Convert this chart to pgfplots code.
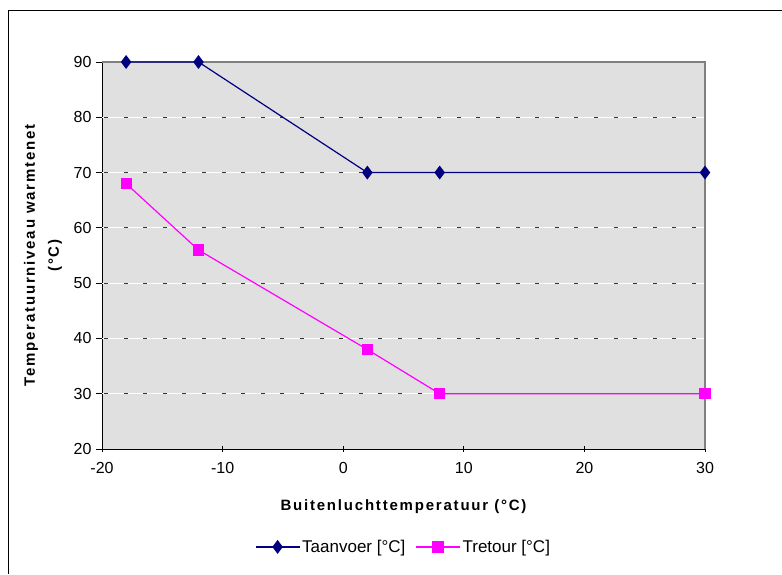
\documentclass[border=0pt]{standalone}
\usepackage{pgfplots}
\pgfplotsset{compat=1.18}
\usepackage{fontspec}
\setmainfont{Liberation Sans}
\newfontfamily\lblfont[LetterSpace=12]{Liberation Sans}
\definecolor{bgc}{RGB}{224,224,224}
\definecolor{navyc}{RGB}{0,0,128}
\definecolor{magc}{RGB}{255,0,255}
\definecolor{frameg}{RGB}{128,128,128}
\begin{document}
\begin{tikzpicture}
\useasboundingbox (0,0) rectangle (782pt,574pt);
\draw[black,line width=0.8pt] (8.5pt,0) -- (8.5pt,564pt) -- (782pt,564pt);
\begin{axis}[
  at={(102pt,125pt)}, anchor=south west,
  scale only axis, width=603pt, height=387pt,
  xmin=-20, xmax=30, ymin=20, ymax=90,
  xtick={-20,-10,0,10,20,30},
  ytick={20,30,40,50,60,70,80,90},
  axis x line*=bottom, axis y line*=left,
  axis line style={black,line width=0.9pt,-},
  xtick align=center, ytick align=outside,
  major tick length=6pt,
  tick style={black,line width=0.8pt},
  axis background/.style={fill=bgc},
  /pgf/number format/assume math mode=true,
  tick label style={font=\fontsize{16}{19}\selectfont},
  xticklabel style={yshift=-7pt},
  yticklabel style={xshift=-1pt},
  xlabel={Buitenluchttemperatuur (°C)},
  ylabel={Temperatuurniveau warmtenet\\(°C)},
  xlabel style={font=\lblfont\bfseries\fontsize{15}{23}\selectfont, at={(axis description cs:0.5,-0.15)}, anchor=center},
  ylabel style={font=\lblfont\bfseries\fontsize{15}{24}\selectfont, align=center, at={(axis description cs:-0.098,0.5)}, anchor=center},
  legend style={at={(0.5,-0.253)}, anchor=center, draw=none, fill=none,
    font=\fontsize{17}{20}\selectfont, /tikz/every even column/.append style={column sep=8pt}},
  legend columns=2,
  legend image code/.code={\draw[#1] (0pt,0pt) -- (44pt,0pt); \draw[#1,only marks] plot coordinates {(22pt,0pt)};},
  clip=false,
]
\pgfplotsinvokeforeach{30,40,50,60,70,80}{
  \draw[white,line width=1pt] (axis cs:-20,#1) -- (axis cs:30,#1);
  \draw[black!80,line width=1pt,dash pattern=on 4pt off 15.6pt,dash phase=17.6pt] (axis cs:-20,#1) -- (axis cs:30,#1);
}
\draw[frameg,line width=1.3pt] (axis cs:-20,90) -- (axis cs:30,90) -- (axis cs:30,20);
\addplot[navyc,line width=1.2pt,mark=diamond*,mark size=6pt,mark options={fill=navyc,draw=navyc}]
  coordinates {(-18,90) (-12,90) (2,70) (8,70) (30,70)};
\addlegendentry{Taanvoer [°C]}
\addplot[magc,line width=1.2pt,mark=square*,mark size=5pt,mark options={fill=magc,draw=magc}]
  coordinates {(-18,68) (-12,56) (2,38) (8,30) (30,30)};
\addlegendentry{Tretour [°C]}
\end{axis}
\end{tikzpicture}
\end{document}
